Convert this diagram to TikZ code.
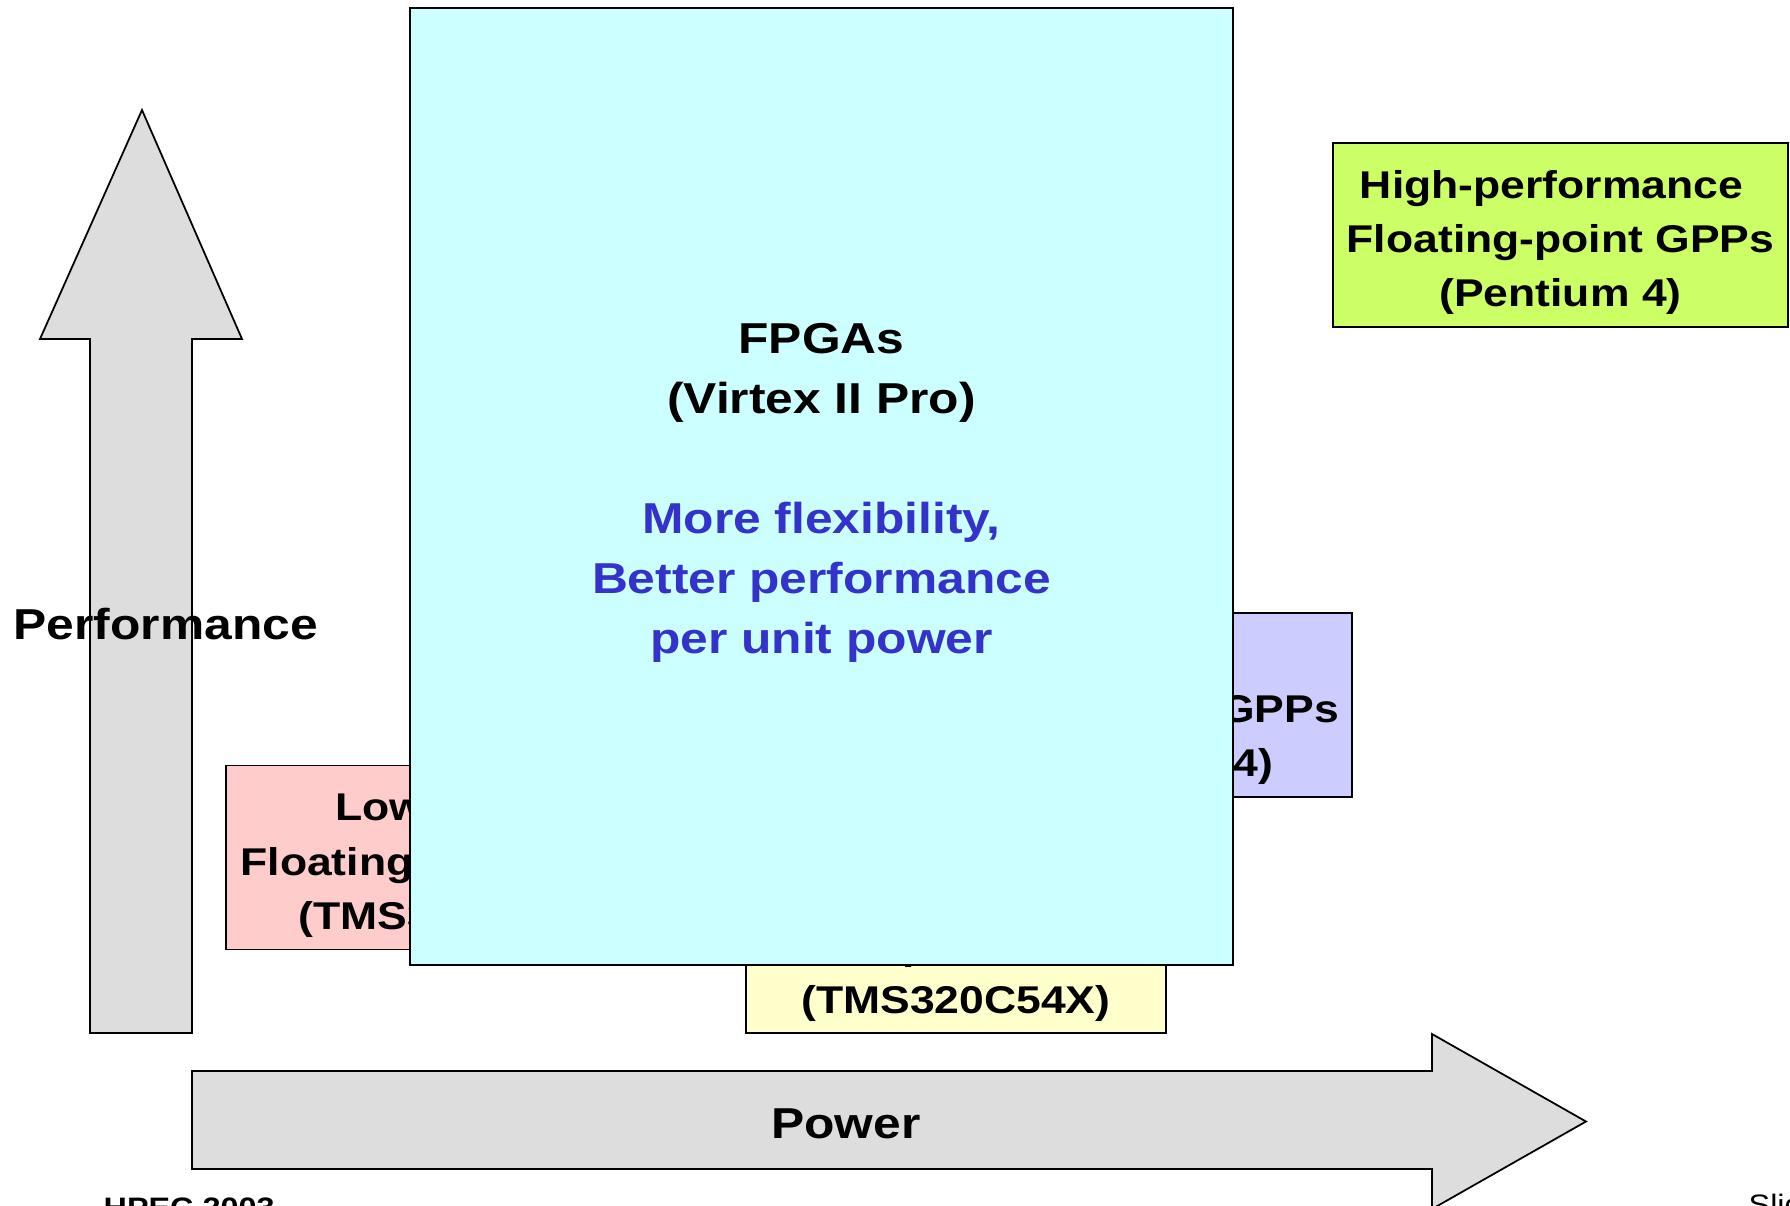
\documentclass[tikz,border=0pt]{standalone}
\usepackage{fontspec}
\setmainfont{Liberation Sans}[FakeStretch=1.15]
\usepackage{xcolor}
\usepackage{tikz}
\usetikzlibrary{positioning}

\definecolor{fpgacyan}{HTML}{CCFFFF}
\definecolor{dsppink}{HTML}{FFCCCC}
\definecolor{dspyellow}{HTML}{FFFFCC}
\definecolor{gpppurple}{HTML}{CCCCFF}
\definecolor{gppgreen}{HTML}{CCFF66}
\definecolor{axisgrey}{HTML}{DDDDDD}
\definecolor{fpgablue}{HTML}{3333CC}
\newcommand{\chiptop}{\rule{0pt}{0.43cm}}

\begin{document}
\begin{tikzpicture}[x=0.01cm, y=-0.01cm,
    chip/.style={draw, line width=0.5pt, minimum width=4.54cm, minimum height=1.84cm, align=center, inner sep=0pt, font=\fontsize{11}{15.4}\selectfont\bfseries},
    axis/.style={draw, line width=0.5pt, fill=axisgrey},
    big/.style={font=\fontsize{12.3}{17.1}\selectfont\bfseries, inner sep=0pt},
    foot/.style={font=\fontsize{8}{9.6}\selectfont, inner sep=0pt, anchor=base west},
]
\useasboundingbox (0,0) rectangle (1790,1206);

\draw[axis] (90,1033) -- (90,339) -- (40,339) -- (142,110) -- (242,339) -- (192,339) -- (192,1033) -- cycle;
\draw[axis] (192,1071) -- (1432,1071) -- (1432,1034) -- (1586,1121.5) -- (1432,1209) -- (1432,1169) -- (192,1169) -- cycle;
\node[big, anchor=base west] (perf) at (13,639) {Performance};
\node[big, anchor=base] (power) at (846,1138) {Power};

\node[chip, fill=dsppink] (lowdsp) at (453,857.5) {\chiptop Low-power\\Floating-point DSPs\\(TMS320C67X)};
\node[chip, fill=dspyellow, minimum width=4.2cm, minimum height=1.82cm] (fixdsp) at (956,942) {\chiptop Low-power\\Fixed-point DSPs\\(TMS320C54X)};
\node[chip, fill=gpppurple] (lowgpp) at (1125,705) {\chiptop Mid-range\\Floating-point GPPs\\(PowerPC G4)};
\node[chip, fill=gppgreen, minimum width=4.55cm] (highgpp) at (1560.5,235) {\chiptop High-performance\hspace*{0.18cm}\\Floating-point GPPs\\(Pentium 4)};
\node[chip, big, fill=fpgacyan, minimum width=8.23cm, minimum height=9.57cm] (fpga) at (821.5,486.5) {\chiptop FPGAs\\(Virtex II Pro)\\[0.6cm]\textcolor{fpgablue}{More flexibility,}\\\textcolor{fpgablue}{Better performance}\\\textcolor{fpgablue}{per unit power}};

\node[foot, font=\fontsize{8}{9.6}\selectfont\bfseries] (hpec) at (103,1217) {HPEC 2003};
\node[foot] (slide) at (1748,1214) {Slide};
\end{tikzpicture}
\end{document}
